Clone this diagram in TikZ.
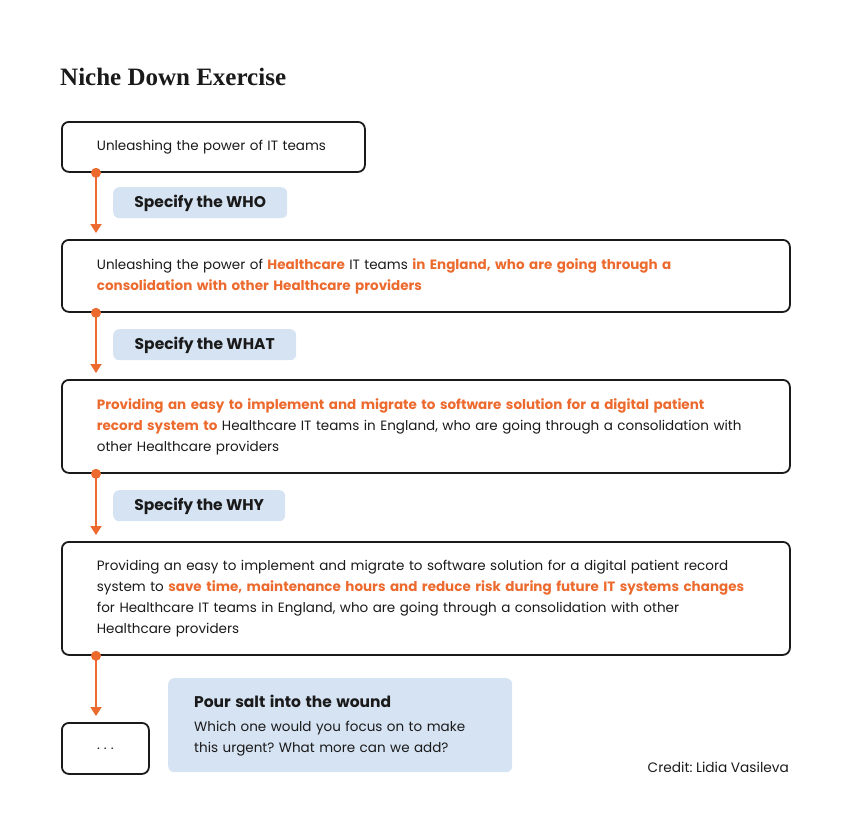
\documentclass[tikz,border=0pt]{standalone}
\usepackage{fontspec}
\setmainfont{Poppins}
\newfontfamily\titlefont{Liberation Serif}
\usetikzlibrary{arrows.meta,positioning}
\frenchspacing

\definecolor{accent}{HTML}{EC6A2E}
\definecolor{tagblue}{HTML}{D6E3F3}
\definecolor{ink}{HTML}{1A1A1A}

\newcommand{\hot}[1]{\textcolor{accent}{\bfseries #1}}

\tikzset{
  stepbox/.style={draw=ink, line width=1.8pt, rounded corners=7pt, anchor=north west,
    inner xsep=35pt, inner ysep=0pt, align=left, text=ink,
    font=\fontsize{13.5}{21}\selectfont},
  tagbox/.style={fill=tagblue, rounded corners=6pt, anchor=north west, minimum height=31pt,
    inner sep=0pt, text height=11pt, text depth=1pt, text=ink,
    font=\bfseries\fontsize{15.5}{20}\selectfont},
  flow/.style={draw=accent, line width=1.8pt, -{Triangle[width=11pt,length=9pt]}, shorten >=6pt},
}

\begin{document}
\begin{tikzpicture}[x=1pt,y=-1pt]
  \useasboundingbox (0,0) rectangle (850,839);

  \node[anchor=base west, inner sep=0pt, text=ink,
    font=\titlefont\bfseries\fontsize{25}{28}\selectfont] (title)
    at (60,85) {Niche Down Exercise};

  % the four steps
  \node[stepbox, text width=233pt, minimum height=50pt] (box1) at (61,121)
    {Unleashing the power of IT teams};
  \node[stepbox, text width=658pt, minimum height=72pt] (box2) at (61,239)
    {Unleashing the power of \hot{Healthcare} IT teams \hot{in England, who are going through a}\\
     \hot{consolidation with other Healthcare providers}};
  \node[stepbox, text width=658pt, minimum height=93pt] (box3) at (61,379)
    {\hot{Providing an easy to implement and migrate to software solution for a digital patient}\\
     \hot{record system to} Healthcare IT teams in England, who are going through a consolidation with\\
     other Healthcare providers};
  \node[stepbox, text width=658pt, minimum height=113pt] (box4) at (61,541)
    {Providing an easy to implement and migrate to software solution for a digital patient record\\
     system to \hot{save time, maintenance hours and reduce risk during future IT systems changes}\\
     for Healthcare IT teams in England, who are going through a consolidation with other\\
     Healthcare providers};
  \node[stepbox, align=center, inner xsep=0pt, minimum width=87pt, minimum height=51pt] (box5)
    at (61,722) {.\hspace{4pt}.\hspace{4pt}.};

  % labels between the steps
  \node[tagbox, minimum width=174pt] (who) at (113,187) {Specify the WHO};
  \node[tagbox, minimum width=183pt] (what) at (113,329) {Specify the WHAT};
  \node[tagbox, minimum width=172pt] (why) at (113,490) {Specify the WHY};

  % arrows
  \foreach \a/\b in {box1/box2, box2/box3, box3/box4, box4/box5} {
    \fill[accent] ([xshift=35pt]\a.south west) circle (5pt);
    \draw[flow] ([xshift=35pt]\a.south west) -- ([xshift=35pt]\b.north west);
  }

  \node[fill=tagblue, rounded corners=6pt, anchor=north west, minimum width=344pt,
    minimum height=94pt, text width=292pt, inner xsep=26pt, align=left, text=ink,
    font=\fontsize{13.5}{21}\selectfont] (salt) at (168,678)
    {{\bfseries\fontsize{15.5}{20}\selectfont Pour salt into the wound}\\[3pt]
     Which one would you focus on to make\\
     this urgent? What more can we add?};

  \node[anchor=base east, inner sep=0pt, text=ink, font=\fontsize{13.7}{16}\selectfont] (credit)
    at (789,772) {Credit: Lidia Vasileva};
\end{tikzpicture}
\end{document}
